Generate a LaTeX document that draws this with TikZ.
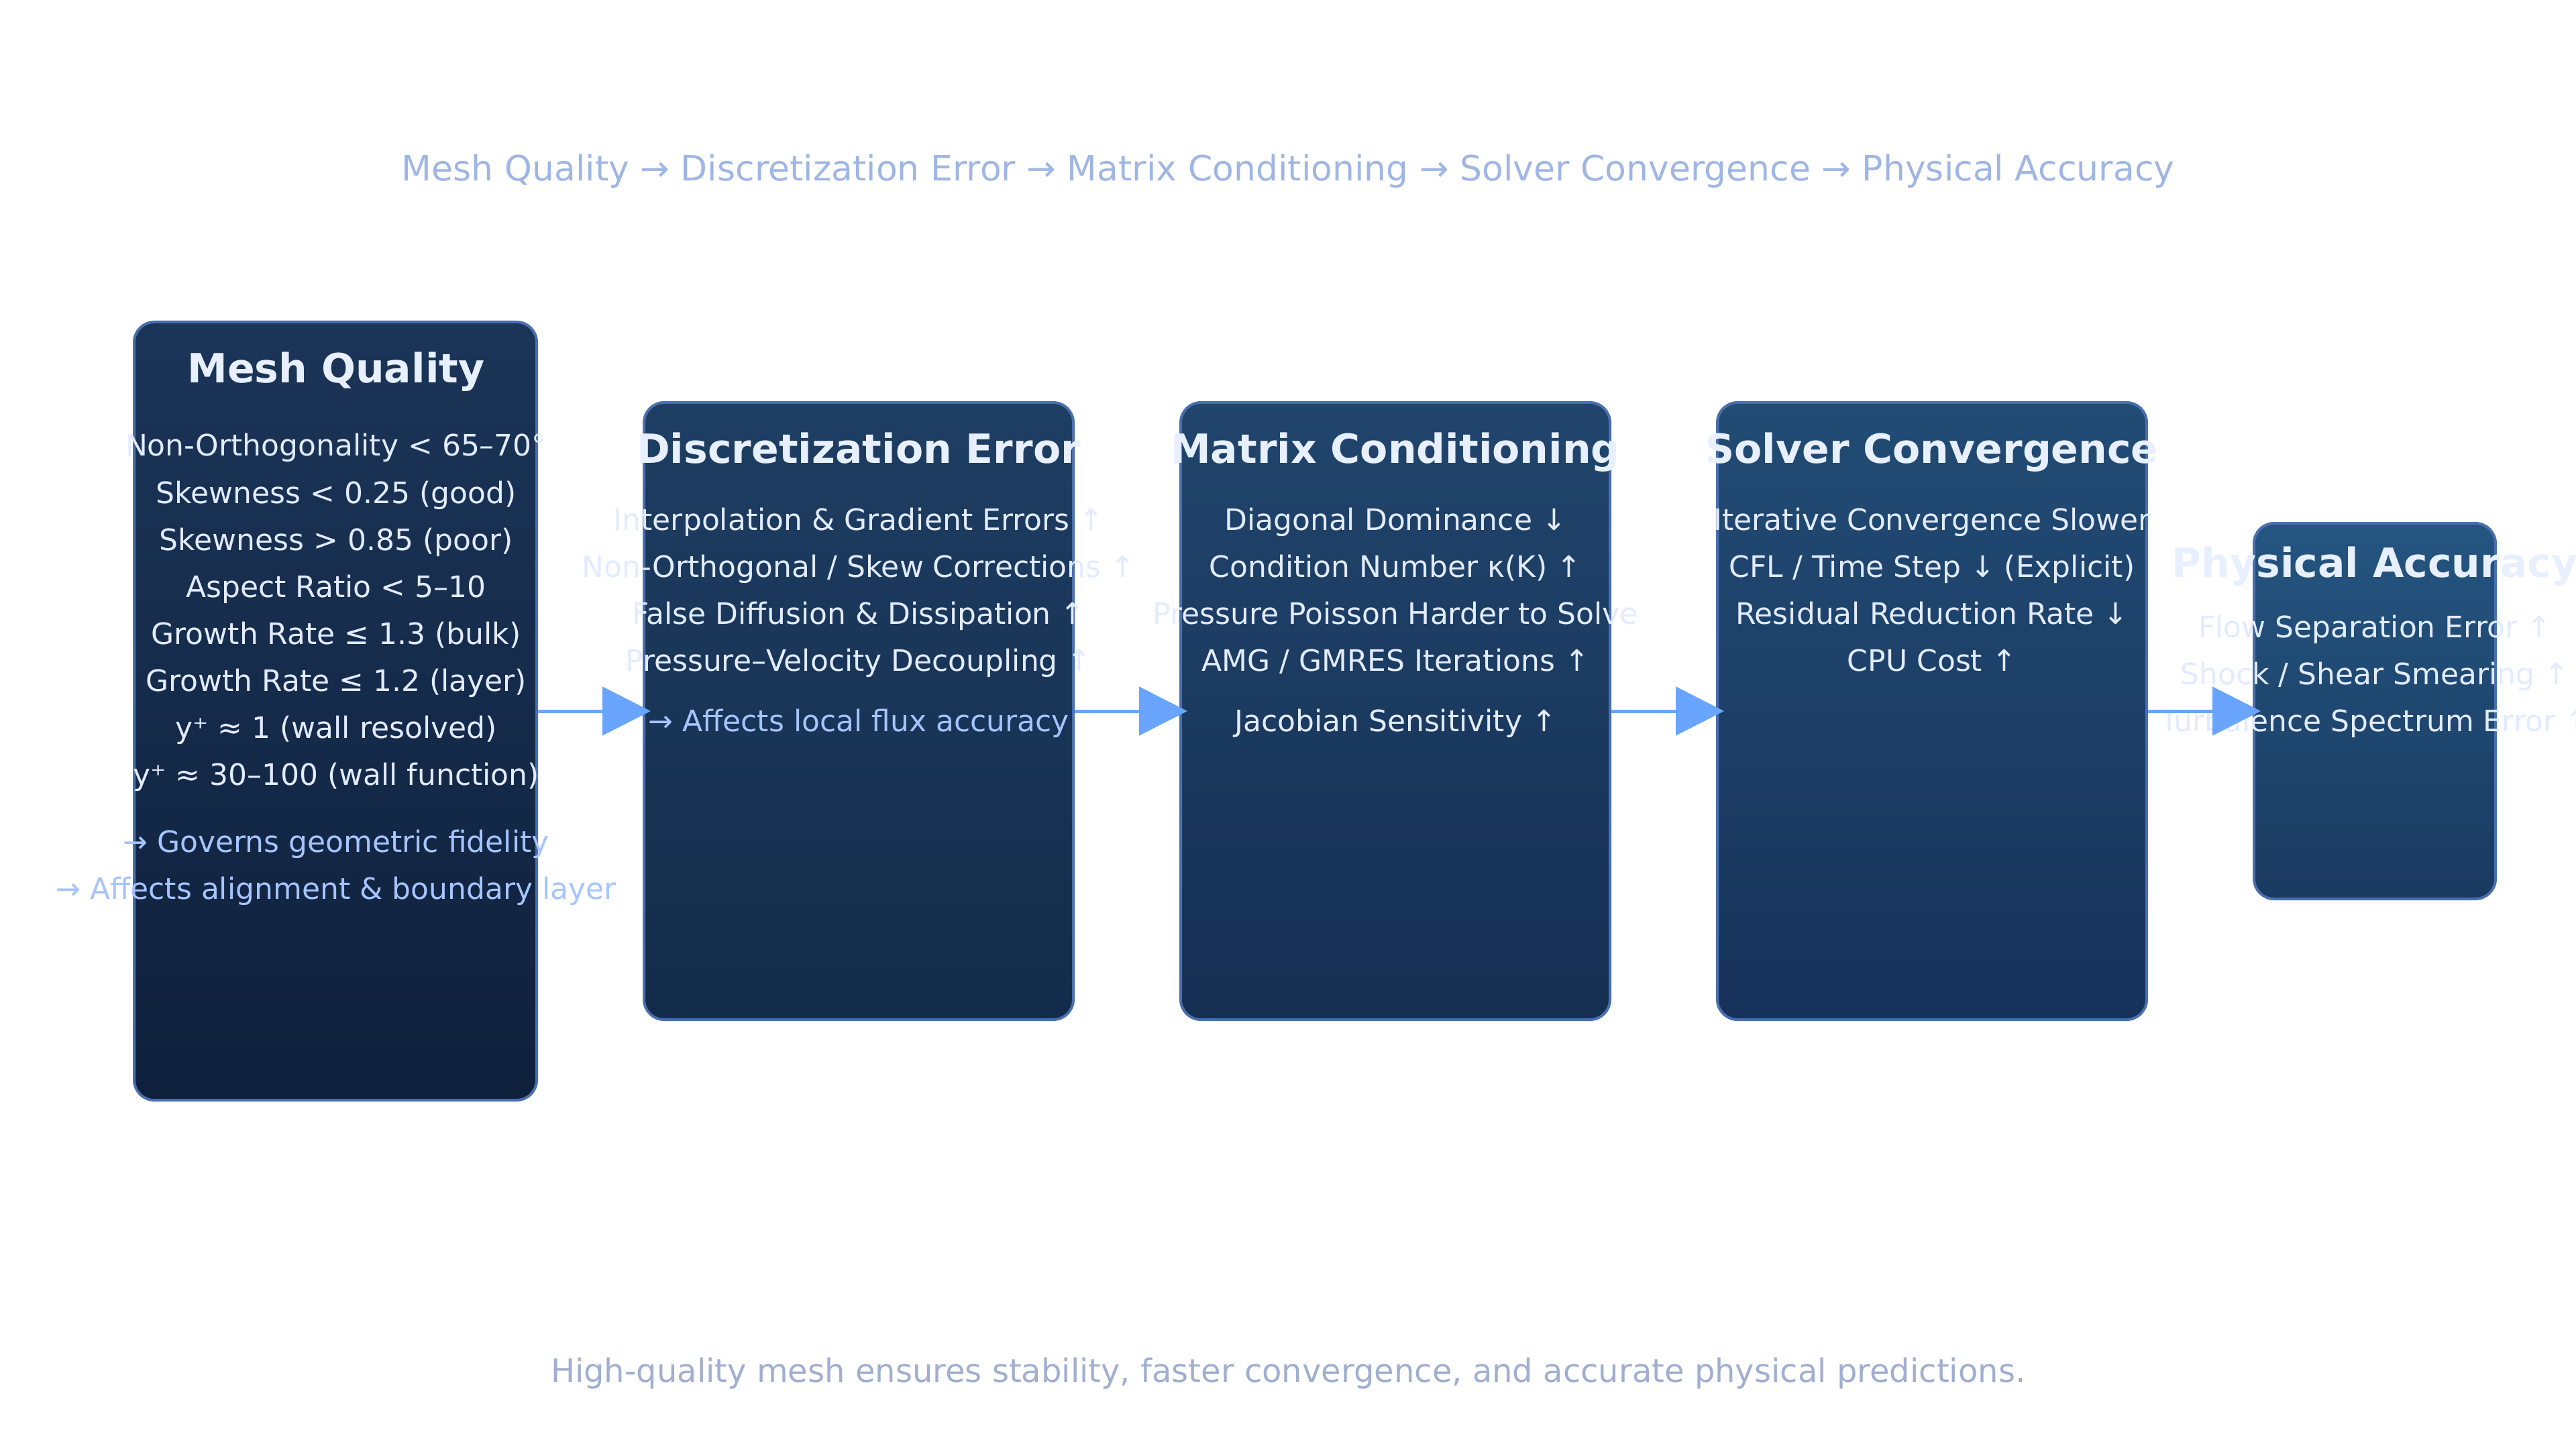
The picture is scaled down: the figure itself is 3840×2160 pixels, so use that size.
\documentclass[tikz,border=0pt]{standalone}
\usepackage{fontspec}
\setmainfont{DejaVu Sans}
\usetikzlibrary{arrows.meta}
\definecolor{boxborder}{HTML}{4A6FAE}
\definecolor{titlecol}{HTML}{E8F0FF}
\definecolor{bodycol}{HTML}{E2EBFF}
\definecolor{accentcol}{HTML}{A6C4FF}
\definecolor{headcol}{HTML}{9FB6E5}
\definecolor{footcol}{HTML}{A0AED0}
\definecolor{arrowcol}{HTML}{69A5FF}
\definecolor{meshtop}{HTML}{1B3558}
\definecolor{meshbot}{HTML}{0F203C}
\definecolor{disctop}{HTML}{1E3E63}
\definecolor{discbot}{HTML}{132B4A}
\definecolor{mattop}{HTML}{21456D}
\definecolor{matbot}{HTML}{152F52}
\definecolor{soltop}{HTML}{224C75}
\definecolor{solbot}{HTML}{17325A}
\definecolor{phystop}{HTML}{245580}
\definecolor{physbot}{HTML}{1A3A60}
\begin{document}
\begin{tikzpicture}[x=0.25pt,y=-0.25pt,
  stagebox/.style={draw=boxborder, line width=1pt, rounded corners=7.5pt, inner sep=0pt},
  ttl/.style={font=\bfseries\fontsize{15}{18}\selectfont, text=titlecol, anchor=base, inner sep=0pt},
  bodytxt/.style={font=\fontsize{11}{13}\selectfont, text=bodycol, anchor=base, inner sep=0pt},
  accenttxt/.style={bodytxt, text=accentcol},
  link/.style={draw=arrowcol, line width=1.25pt, -{Triangle[length=18pt,width=18pt]}}]
\useasboundingbox (0,0) rectangle (3840,2160);

\node[font=\fontsize{13}{15}\selectfont, text=headcol, anchor=base] (head) at (1920,270)
  {Mesh Quality → Discretization Error → Matrix Conditioning → Solver Convergence → Physical Accuracy};

% boxes
\node[stagebox, top color=meshtop, bottom color=meshbot, minimum width=150pt, minimum height=290pt] (mesh) at (500,1060) {};
\node[stagebox, top color=disctop, bottom color=discbot, minimum width=160pt, minimum height=230pt] (disc) at (1280,1060) {};
\node[stagebox, top color=mattop, bottom color=matbot, minimum width=160pt, minimum height=230pt] (mat) at (2080,1060) {};
\node[stagebox, top color=soltop, bottom color=solbot, minimum width=160pt, minimum height=230pt] (sol) at (2880,1060) {};
\node[stagebox, top color=phystop, bottom color=physbot, minimum width=90pt, minimum height=140pt] (phys) at (3540,1060) {};

% mesh texts
\node[ttl] (meshT) at (501,571) {Mesh Quality};
\node[bodytxt] (m1) at (501,680) {Non-Orthogonality < 65–70°};
\node[bodytxt] (m2) at (501,750) {Skewness < 0.25 (good)};
\node[bodytxt] (m3) at (501,820) {Skewness > 0.85 (poor)};
\node[bodytxt] (m4) at (501,890) {Aspect Ratio < 5–10};
\node[bodytxt] (m5) at (501,960) {Growth Rate ≤ 1.3 (bulk)};
\node[bodytxt] (m6) at (501,1030) {Growth Rate ≤ 1.2 (layer)};
\node[bodytxt] (m7) at (501,1100) {y⁺ ≈ 1 (wall resolved)};
\node[bodytxt] (m8) at (501,1170) {y⁺ ≈ 30–100 (wall function)};
\node[accenttxt] (m9) at (501,1270) {→ Governs geometric fidelity};
\node[accenttxt] (m10) at (501,1340) {→ Affects alignment \& boundary layer};

% disc texts
\node[ttl] (discT) at (1280,690) {Discretization Error};
\node[bodytxt] (d1) at (1280,790) {Interpolation \& Gradient Errors ↑};
\node[bodytxt] (d2) at (1280,860) {Non-Orthogonal / Skew Corrections ↑};
\node[bodytxt] (d3) at (1280,930) {False Diffusion \& Dissipation ↑};
\node[bodytxt] (d4) at (1280,1000) {Pressure–Velocity Decoupling ↑};
\node[accenttxt] (d5) at (1280,1090) {→ Affects local flux accuracy};

% matrix texts
\node[ttl] (matT) at (2080,690) {Matrix Conditioning};
\node[bodytxt] (c1) at (2080,790) {Diagonal Dominance ↓};
\node[bodytxt] (c2) at (2080,860) {Condition Number κ(K) ↑};
\node[bodytxt] (c3) at (2080,930) {Pressure Poisson Harder to Solve};
\node[bodytxt] (c4) at (2080,1000) {AMG / GMRES Iterations ↑};
\node[bodytxt] (c5) at (2080,1090) {Jacobian Sensitivity ↑};

% solver texts
\node[ttl] (solT) at (2880,690) {Solver Convergence};
\node[bodytxt] (s1) at (2880,790) {Iterative Convergence Slower};
\node[bodytxt] (s2) at (2880,860) {CFL / Time Step ↓ (Explicit)};
\node[bodytxt] (s3) at (2880,930) {Residual Reduction Rate ↓};
\node[bodytxt] (s4) at (2880,1000) {CPU Cost ↑};

% physical texts
\node[ttl] (physT) at (3540,860) {Physical Accuracy};
\node[bodytxt] (p1) at (3540,950) {Flow Separation Error ↑};
\node[bodytxt] (p2) at (3540,1020) {Shock / Shear Smearing ↑};
\node[bodytxt] (p3) at (3540,1090) {Turbulence Spectrum Error ↑};

% arrows
\draw[link] (mesh.east) -- ([xshift=3pt]disc.west);
\draw[link] (disc.east) -- ([xshift=3pt]mat.west);
\draw[link] (mat.east) -- ([xshift=3pt]sol.west);
\draw[link] (sol.east) -- ([xshift=3pt]phys.west);

\node[font=\fontsize{12}{14}\selectfont, text=footcol, anchor=base] (foot) at (1920,2060)
  {High-quality mesh ensures stability, faster convergence, and accurate physical predictions.};
\end{tikzpicture}
\end{document}
